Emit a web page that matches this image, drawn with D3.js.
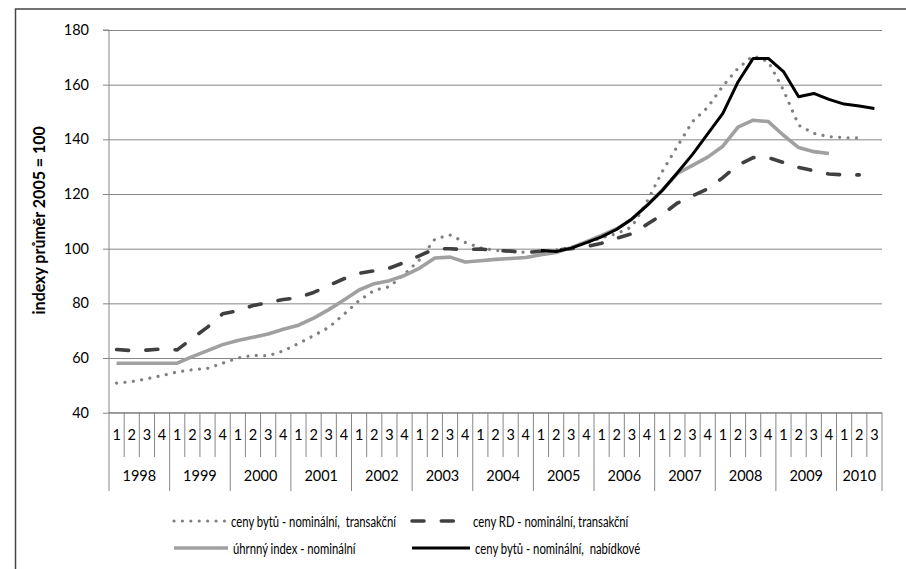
<!DOCTYPE html>
<html><head><meta charset="utf-8">
<script src="https://cdn.jsdelivr.net/npm/d3@7"></script>
<style>
html,body{margin:0;padding:0;background:#fff;}
svg{display:block;font-family:Lato,"Open Sans",sans-serif;}
</style></head>
<body>
<svg id="c" width="906" height="569"></svg>
<script>
// ---- data ----
const years = ["1998","1999","2000","2001","2002","2003","2004","2005","2006","2007","2008","2009","2010"];
const quarters = ["1","2","3","4"];
const nQuarters = 51; // 1998Q1 .. 2010Q3
const yTicks = [40,60,80,100,120,140,160,180];

// ceny bytů - nominální, transakční (1998Q1..2010Q2)
const bytyTransakcni = [50.8,51.4,52.4,53.6,54.9,55.7,56.2,58.1,60.0,61.0,60.8,62.6,65.3,68.2,71.2,76.0,81.0,84.8,86.1,90.7,96.0,103.5,105.0,102.3,100.3,99.4,98.9,98.7,99.0,99.5,100.5,102.0,104.0,105.5,108.0,117.3,128.2,137.5,146.5,151.7,159.5,166.0,170.5,168.4,158.0,145.2,142.2,141.0,140.6,140.5,null];
// ceny RD - nominální, transakční (1998Q1..2010Q2)
const rdTransakcni = [63.1,62.7,62.9,63.3,63.0,67.2,71.3,76.2,77.3,79.2,80.3,81.4,82.1,84.0,86.5,89.0,91.0,91.9,92.9,95.0,97.5,99.9,100.0,99.6,99.9,99.4,99.1,98.6,99.0,99.5,100.0,100.8,102.0,103.8,105.5,108.9,112.5,116.7,119.3,121.9,126.0,130.6,133.3,133.3,131.5,129.7,128.5,127.3,127.0,127.0,null];
// úhrnný index - nominální (1998Q1..2009Q4)
const uhrnnyIndex = [58.1,58.1,58.1,58.1,58.1,60.5,62.7,64.9,66.4,67.6,68.8,70.5,72.0,74.6,77.7,81.2,84.9,87.2,88.3,90.2,92.9,96.6,96.9,95.1,95.6,96.1,96.4,96.8,97.8,98.6,100.4,102.6,104.9,107.3,110.8,115.9,121.4,127.5,130.5,133.5,137.5,144.5,147.0,146.5,141.5,137.0,135.5,134.8,null,null,null];
// ceny bytů - nominální, nabídkové (2005Q1..2010Q3)
const bytyNabidkove = [null,null,null,null,null,null,null,null,null,null,null,null,null,null,null,null,null,null,null,null,null,null,null,null,null,null,null,null,99.3,99.0,100.2,102.2,104.3,107.1,110.9,115.8,121.3,127.8,134.5,142.0,149.5,161.0,169.6,169.6,164.8,155.6,156.8,154.6,152.9,152.2,151.3];

const seriesNames = ["ceny bytů - nominální,  transakční","ceny RD - nominální, transakční","úhrnný index - nominální","ceny bytů - nominální,  nabídkové"];
const yTitle = "indexy průměr 2005 = 100";

// ---- layout ----
const svg = d3.select("#c");
const L = 109, R = 882, T = 30, B = 412.7;
const grid = "#868686";
const FONT = "Lato, sans-serif";

// pick a narrow face for the legend if one is installed
function textWidth(family, size, str) {
  const t = svg.append("text").attr("font-family", family).attr("font-size", size).text(str);
  const w = t.node().getComputedTextLength(); t.remove(); return w;
}
const probe = "ceny bytů - nominální, transakční";
const narrowOK = Math.abs(textWidth("'Liberation Sans Narrow', monospace", "15px", probe) - textWidth("monospace", "15px", probe)) > 1;
const LEG_FONT = narrowOK ? "'Liberation Sans Narrow', sans-serif" : FONT;
const legTarget = 0.0108; // relative squeeze target: width per char per px

const cats = d3.range(nQuarters);
const x = d3.scaleBand().domain(cats).range([L, R]).padding(0);
const y = d3.scaleLinear().domain([40,180]).range([B, T]);
const cx = i => x(i) + x.bandwidth()/2;

// outer frame
svg.append("rect").attr("x",15.5).attr("y",9).attr("width",1000).attr("height",1000)
  .attr("fill","none").attr("stroke","#444").attr("stroke-width",1.5);

// gridlines
svg.append("g").attr("transform",`translate(${L},0)`)
  .call(d3.axisLeft(y).tickValues(yTicks).tickSize(-(R-L)).tickFormat(""))
  .call(g=>g.select(".domain").remove())
  .call(g=>g.selectAll("line").attr("stroke",grid).attr("stroke-width",1));

// y axis
svg.append("g").attr("transform",`translate(${L},0)`)
  .call(d3.axisLeft(y).tickValues(yTicks).tickSize(6).tickPadding(14))
  .call(g=>g.select(".domain").attr("stroke",grid).attr("d",`M-6,${T}H0V${B}`))
  .call(g=>g.selectAll("line").attr("stroke",grid))
  .call(g=>g.selectAll("text").attr("font-size","14.5px").attr("fill","#000").attr("font-family",FONT));

// x axis line
svg.append("line").attr("x1",L).attr("x2",R).attr("y1",B).attr("y2",B).attr("stroke",grid);

// category separators
const qSepBottom = 457, ySepBottom = 491;
const seps = d3.range(nQuarters+1);
svg.append("g").selectAll("line").data(seps).join("line")
  .attr("x1", i => i < nQuarters ? x(i) : R)
  .attr("x2", i => i < nQuarters ? x(i) : R)
  .attr("y1", B)
  .attr("y2", i => (i % 4 === 0 || i === nQuarters) ? ySepBottom : qSepBottom)
  .attr("stroke", grid).attr("stroke-width",1);

// quarter labels
svg.append("g").attr("transform",`translate(0,${B})`)
  .call(d3.axisBottom(x).tickSize(0).tickPadding(17).tickFormat(i => quarters[i % 4]))
  .call(g=>g.select(".domain").remove())
  .call(g=>g.selectAll("text").attr("font-size","14.5px").attr("fill","#000").attr("font-family",FONT));

// year labels
svg.append("g").selectAll("text").data(years).join("text")
  .attr("x", (d,k) => { const s = x(k*4), e = Math.min(k*4+4, nQuarters); return (s + (e < nQuarters ? x(e) : R))/2; })
  .attr("y", 481)
  .attr("text-anchor","middle").attr("font-size","14.5px").attr("font-family",FONT)
  .text(d => d);

// y title
const yt = svg.append("text").attr("transform",`translate(45,${(T+B)/2 - 1}) rotate(-90)`)
  .attr("text-anchor","middle").attr("font-size","17px").attr("font-weight","bold")
  .attr("font-family",FONT).text(yTitle);
{ const w = yt.node().getComputedTextLength(); yt.attr("textLength", w*0.94).attr("lengthAdjust","spacingAndGlyphs"); }

// series styles
const styles = [
  {data: bytyTransakcni, stroke:"#808080", width:3.2, dash:"0.01 8.4", cap:"round"},
  {data: rdTransakcni,   stroke:"#404040", width:3.6, dash:"12 17.3", cap:"round"},
  {data: uhrnnyIndex,    stroke:"#a0a0a0", width:3.6, dash:null, cap:"butt"},
  {data: bytyNabidkove,  stroke:"#000000", width:3.0, dash:null, cap:"butt"}
];
const line = d3.line().defined(d => d.v != null).x(d => cx(d.i)).y(d => y(d.v));
styles.forEach(s => {
  svg.append("path").datum(s.data.map((v,i)=>({i,v})))
    .attr("d", line).attr("fill","none").attr("stroke",s.stroke)
    .attr("stroke-width",s.width).attr("stroke-dasharray",s.dash)
    .attr("stroke-linecap",s.cap).attr("stroke-linejoin","round");
});

// legend
const legendPos = [
  {x1:174, x2:226, y:521},
  {x1:412, x2:468, y:521},
  {x1:174, x2:228, y:548},
  {x1:412, x2:470, y:548}
];
const legSize = 15.5;
// scale so that the first label spans like the original (~ 10.4 px per em-char ratio)
const natural0 = textWidth(LEG_FONT, legSize + "px", seriesNames[0]);
const squeeze = Math.min(1, 162 / natural0);
styles.forEach((s,k) => {
  const p = legendPos[k];
  svg.append("line").attr("x1",p.x1).attr("x2",p.x2).attr("y1",p.y).attr("y2",p.y)
    .attr("stroke",s.stroke).attr("stroke-width",s.width).attr("stroke-dasharray",s.dash)
    .attr("stroke-linecap",s.cap);
  const t = svg.append("text").attr("x",p.x2+5).attr("y",p.y+5.5).attr("font-size",legSize+"px")
    .attr("font-family",LEG_FONT).style("white-space","pre").text(seriesNames[k]);
  const w = t.node().getComputedTextLength();
  t.attr("textLength", w*squeeze).attr("lengthAdjust","spacingAndGlyphs");
});
</script>
</body></html>
